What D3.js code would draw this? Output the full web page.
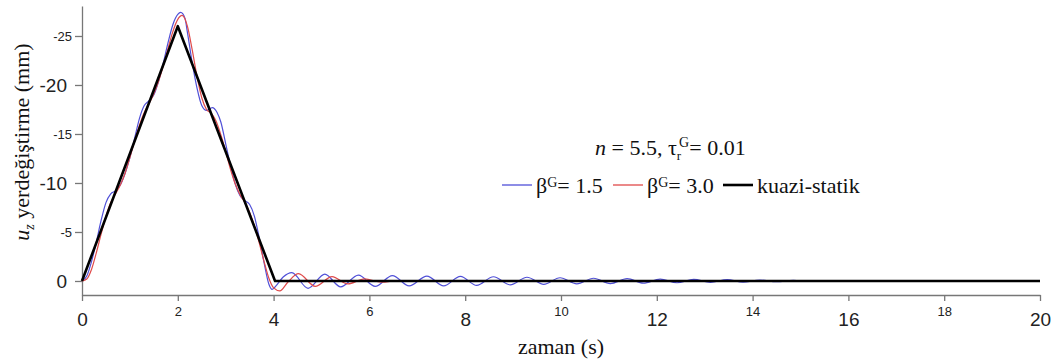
<!DOCTYPE html>
<html>
<head>
<meta charset="utf-8">
<script src="https://cdn.jsdelivr.net/npm/d3@7"></script>
<style>
  html, body { margin: 0; padding: 0; background: #fff; }
  svg { display: block; }
  .serif { font-family: "Liberation Serif", "Times New Roman", "DejaVu Serif", serif; }
  .sans { font-family: "Liberation Sans", Arial, sans-serif; }
</style>
</head>
<body>
<div id="chart"></div>
<script>
// zaman (s) / yerdegistirme (mm)
const staticT = [0, 2, 4.03, 20];
const staticV = [0, -26, 0, 0];

const blueT = [0, 0.1, 0.2, 0.3, 0.4, 0.5, 0.6, 0.7, 0.8, 0.9, 1.0, 1.1, 1.2, 1.3, 1.4, 1.5, 1.6, 1.7, 1.8, 1.9, 2.0, 2.06,
  2.15, 2.2, 2.3, 2.4, 2.5, 2.6, 2.72, 2.82, 2.9, 3.0, 3.1, 3.2, 3.3, 3.4, 3.5, 3.6, 3.7, 3.8, 3.9, 3.97,
  4.05, 4.2, 4.38, 4.72, 5.07, 5.40, 5.77, 6.12, 6.48, 6.83, 7.2, 7.55, 7.9, 8.24, 8.59, 8.94, 9.29, 9.64,
  9.98, 10.33, 10.68, 11.03, 11.38, 11.72, 12.07, 12.42, 12.77, 13.12, 13.47, 13.8, 14.15, 14.5, 14.85,
  15.2, 15.55, 15.9, 16.25, 16.6, 17.0, 20];
const blueV = [0, -0.5, -2.0, -4.0, -6.2, -8.0, -8.9, -9.2, -9.8, -11.0, -12.6, -14.6, -16.6, -17.9, -18.4, -19.0, -20.4, -22.3, -24.4, -26.2, -27.2, -27.4,
  -26.8, -25.4, -22.3, -19.7, -17.9, -17.4, -17.7, -17.2, -16.2, -14.0, -11.8, -9.9, -8.7, -8.2, -7.8, -6.6, -4.4, -1.9, 0.3, 0.85,
  0.5, -0.4, -0.85, 0.75, -0.7, 0.6, -0.6, 0.55, -0.55, 0.5, -0.5, 0.5, -0.48, 0.45, -0.43, 0.4, -0.38, 0.35,
  -0.33, 0.3, -0.28, 0.26, -0.24, 0.22, -0.2, 0.18, -0.16, 0.14, -0.13, 0.12, -0.1, 0.08, -0.07,
  0.05, -0.04, 0.03, -0.02, 0.01, 0, 0];

const redT = [0, 0.1, 0.2, 0.3, 0.4, 0.5, 0.6, 0.7, 0.8, 0.9, 1.0, 1.1, 1.2, 1.3, 1.4, 1.5, 1.6, 1.7, 1.8, 1.9, 2.0, 2.09,
  2.2, 2.3, 2.4, 2.5, 2.6, 2.7, 2.8, 2.9, 3.0, 3.1, 3.2, 3.3, 3.4, 3.5, 3.6, 3.7, 3.8, 3.9, 4.0, 4.13,
  4.3, 4.52, 4.87, 5.22, 5.55, 5.9, 6.25, 6.6, 7.0, 20];
const redV = [0, -0.2, -1.2, -2.9, -4.8, -6.6, -8.0, -8.9, -9.8, -11.0, -12.6, -14.3, -15.9, -17.2, -18.1, -19.1, -20.4, -22.0, -23.8, -25.5, -26.7, -27.1,
  -26.0, -23.6, -20.9, -18.7, -17.5, -17.1, -16.3, -14.9, -13.2, -11.4, -9.9, -8.8, -8.0, -7.0, -5.6, -3.9, -2.0, -0.3, 0.7, 1.0,
  0.1, -0.75, 0.55, -0.45, 0.3, -0.22, 0.12, -0.05, 0, 0];

const xMajor = [0, 4, 8, 12, 16, 20];
const xMinor = [2, 6, 10, 14, 18];
const yMajor = [-20, -10, 0];
const yMinor = [-25, -15, -5];

const width = 1058, height = 362;

const svg = d3.select("#chart").append("svg")
  .attr("width", width)
  .attr("height", height);

const x = d3.scaleLinear().domain([0, 20]).range([82, 1040]);
const y = d3.scaleLinear().domain([1.43, -28.06]).range([295, 6]);

// axes
const xAxis = d3.axisBottom(x)
  .tickValues(xMajor.concat(xMinor).sort((a, b) => a - b))
  .tickSize(6).tickSizeOuter(0)
  .tickFormat(d => String(d));
const gx = svg.append("g").attr("transform", `translate(0,${y(1.43)})`).call(xAxis);
gx.attr("font-family", null).attr("class", "sans");
gx.select(".domain").attr("stroke", "#777").attr("stroke-width", 1.3);
gx.selectAll(".tick line").attr("stroke", "#777").attr("stroke-width", 1.3);
gx.selectAll(".tick text")
  .attr("fill", "#222")
  .attr("dy", 0)
  .attr("y", d => xMajor.includes(d) ? 31 : 21)
  .attr("font-size", d => xMajor.includes(d) ? 19 : 13);

const yAxis = d3.axisLeft(y)
  .tickValues(yMajor.concat(yMinor))
  .tickSize(7).tickSizeOuter(0)
  .tickFormat(d => String(d));
const gy = svg.append("g").attr("transform", `translate(${x(0)},0)`).call(yAxis);
gy.attr("font-family", null).attr("class", "sans");
gy.select(".domain").attr("stroke", "#777").attr("stroke-width", 1.3);
gy.selectAll(".tick line").attr("stroke", "#777").attr("stroke-width", 1.3);
gy.selectAll(".tick text")
  .attr("fill", "#222")
  .attr("x", d => yMajor.includes(d) ? -15 : -10)
  .attr("font-size", d => yMajor.includes(d) ? 19 : 13);

// curves
const pathFor = (t, v, curve) => d3.line()
  .x(d => x(d[0]))
  .y(d => y(d[1]))
  .curve(curve)(t.map((tt, i) => [tt, v[i]]));

const series = [
  { t: blueT, v: blueV, color: "#5050d8", w: 1.2, curve: d3.curveMonotoneX },
  { t: redT, v: redV, color: "#e04a4a", w: 1.2, curve: d3.curveMonotoneX },
  { t: staticT, v: staticV, color: "#000", w: 2.6, curve: d3.curveLinear }
];
series.forEach(s => {
  svg.append("path")
    .attr("d", pathFor(s.t, s.v, s.curve))
    .attr("fill", "none")
    .attr("stroke", s.color)
    .attr("stroke-width", s.w)
    .attr("stroke-linejoin", "round");
});

// axis titles
svg.append("text")
  .attr("class", "serif")
  .attr("x", 561).attr("y", 354)
  .attr("text-anchor", "middle")
  .attr("font-size", 22).attr("fill", "#111")
  .text("zaman (s)");

const yt = svg.append("text")
  .attr("class", "serif")
  .attr("transform", "translate(29,142) rotate(-90)")
  .attr("text-anchor", "middle")
  .attr("font-size", 22).attr("fill", "#111");
yt.append("tspan").attr("font-style", "italic").text("u");
yt.append("tspan").attr("font-style", "italic").attr("font-size", 14).attr("dy", 5).text("z");
yt.append("tspan").attr("dy", -5).text(" yerdeğiştirme (mm)");

// annotation
const ann = svg.append("text")
  .attr("class", "serif")
  .attr("x", 595).attr("y", 155)
  .attr("font-size", 22).attr("fill", "#111");
ann.append("tspan").attr("font-style", "italic").text("n");
ann.append("tspan").text(" = 5.5, τ");
ann.append("tspan").attr("font-size", 13).attr("dy", 5).text("r");
ann.append("tspan").attr("font-size", 14).attr("dy", -13).attr("dx", -2).text("G");
ann.append("tspan").attr("dy", 8).text("= 0.01");

// legend
const legend = [
  { x0: 502, label: "1.5", color: "#5050d8", w: 1.3 },
  { x0: 613, label: "3.0", color: "#e04a4a", w: 1.3 },
  { x0: 723, label: null, color: "#000", w: 2.6 }
];
legend.forEach(l => {
  svg.append("line")
    .attr("x1", l.x0).attr("x2", l.x0 + 30)
    .attr("y1", 185).attr("y2", 185)
    .attr("stroke", l.color).attr("stroke-width", l.w);
  const t = svg.append("text")
    .attr("class", "serif")
    .attr("x", l.x0 + 34).attr("y", 193)
    .attr("font-size", 22).attr("fill", "#111");
  if (l.label) {
    t.append("tspan").text("β");
    t.append("tspan").attr("font-size", 14).attr("dy", -6).text("G");
    t.append("tspan").attr("dy", 6).text("= " + l.label);
  } else {
    t.text("kuazi-statik");
  }
});
</script>
</body>
</html>
